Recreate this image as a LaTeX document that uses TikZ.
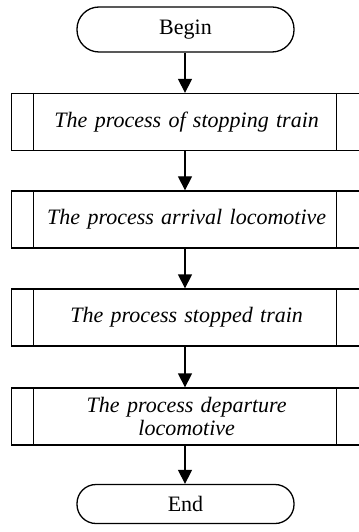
\documentclass[tikz,border=0pt]{standalone}
\usepackage{fontspec}
\setmainfont{Liberation Serif}
\usetikzlibrary{arrows.meta}
\begin{document}
\begin{tikzpicture}[x=1bp,y=-1bp,
  line width=1.3bp,
  every node/.style={inner sep=0pt},
  terminal/.style={draw, rectangle, rounded corners=22bp,
    minimum width=217bp, minimum height=45bp, font=\fontsize{22bp}{24bp}\selectfont},
  procbox/.style={draw, rectangle, minimum width=350bp, minimum height=57bp,
    text width=290bp, align=center, font=\fontsize{22bp}{23.5bp}\selectfont\itshape},
  flow/.style={-{Triangle[length=14bp,width=14bp]}}
]
\useasboundingbox (0,0) rectangle (358,532);
\node[terminal] (begin) at (185.5,29.5) {Begin};
\node[procbox] (p1) at (186.7,122) {The process of stopping train};
\node[procbox] (p2) at (186.7,219.5) {The process arrival locomotive};
\node[procbox] (p3) at (186.7,317.5) {The process stopped train};
\node[procbox] (p4) at (186.7,416.5) {The process departure\\locomotive};
\node[terminal, minimum height=39bp, rounded corners=19bp] (end) at (185.5,504) {End};
% inner side bars of the predefined-process boxes
\foreach \n in {p1,p2,p3,p4}{
  \draw ([xshift=22.6bp]\n.north west) -- ([xshift=22.6bp]\n.south west);
  \draw ([xshift=-26bp]\n.north east) -- ([xshift=-26bp]\n.south east);
}
\draw[flow] (begin.south -| 185,0) -- (p1.north -| 185,0);
\draw[flow] (p1.south -| 185,0) -- (p2.north -| 185,0);
\draw[flow] (p2.south -| 185,0) -- (p3.north -| 185,0);
\draw[flow] (p3.south -| 185,0) -- (p4.north -| 185,0);
\draw[flow] (p4.south -| 185,0) -- (end.north -| 185,0);
\end{tikzpicture}
\end{document}
